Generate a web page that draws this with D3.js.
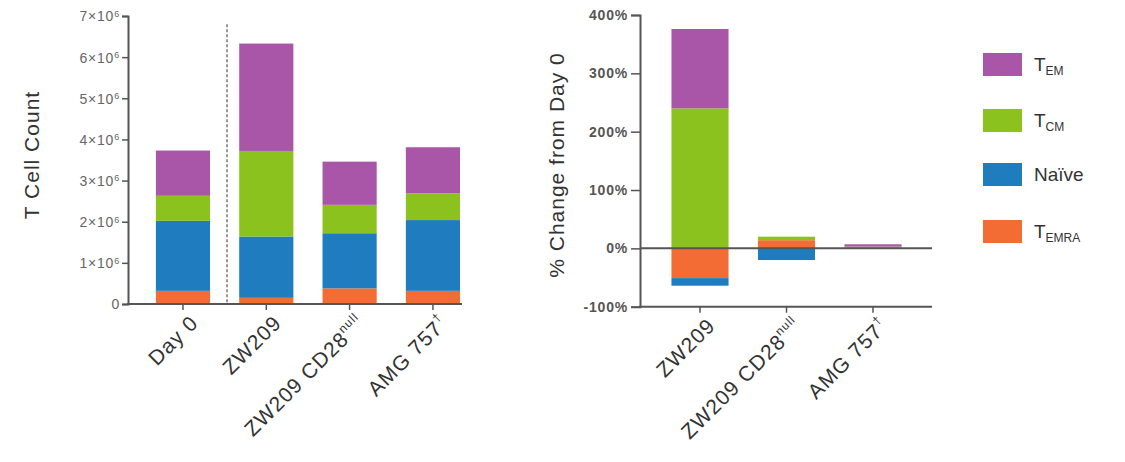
<!DOCTYPE html>
<html><head><meta charset="utf-8">
<script src="https://cdn.jsdelivr.net/npm/d3@7"></script>
<style>body{margin:0;background:#fff}svg{display:block}</style>
</head><body>
<svg id="c" width="1125" height="462"></svg>
<script>
// ---- data ----
const leftCats = ["Day 0", "ZW209", "ZW209 CD28null", "AMG 757"];
const rightCats = ["ZW209", "ZW209 CD28null", "AMG 757"];
const seriesKeys = ["TEMRA", "Naive", "TCM", "TEM"];
// left: T cell counts (×10^6)
const temraCount = [0.32, 0.15, 0.38, 0.32];
const naiveCount = [1.70, 1.49, 1.34, 1.72];
const tcmCount   = [0.61, 2.08, 0.69, 0.65];
const temCount   = [1.10, 2.61, 1.05, 1.12];
// right: % change from Day 0
const temraPct = [-51, 14, 1];
const naivePct = [-13, -20, 0];
const tcmPct   = [240, 6, 2];
const temPct   = [136, 0, 4];
const leftTicks = [0, 1, 2, 3, 4, 5, 6, 7];
const rightTicks = [-100, 0, 100, 200, 300, 400];

const colors = {TEM: "#a956a8", TCM: "#8cc21e", Naive: "#1f7dbf", TEMRA: "#f26c33"};
const legendItems = [
  {key: "TEM", main: "T", sub: "EM"},
  {key: "TCM", main: "T", sub: "CM"},
  {key: "Naive", main: "Naïve", sub: ""},
  {key: "TEMRA", main: "T", sub: "EMRA"}
];

const svg = d3.select("#c");
const axisCol = "#555";
const font = "'Liberation Sans', Arial, sans-serif";

// ---------- LEFT CHART ----------
const leftRows = leftCats.map((c, i) => ({cat: c, TEMRA: temraCount[i], Naive: naiveCount[i], TCM: tcmCount[i], TEM: temCount[i]}));
const xL = d3.scaleBand().domain(leftCats).range([141.3, 474.6]).paddingInner(0.35).paddingOuter(0.175);
const yL = d3.scaleLinear().domain([0, 7]).range([304, 16]);
const stackL = d3.stack().keys(seriesKeys)(leftRows);

const gL = svg.append("g");
gL.selectAll("g.s").data(stackL).join("g").attr("fill", d => colors[d.key])
  .selectAll("rect").data(d => d).join("rect")
  .attr("x", d => xL(d.data.cat)).attr("width", xL.bandwidth())
  .attr("y", d => yL(d[1])).attr("height", d => yL(d[0]) - yL(d[1]));

// dotted separator
gL.append("line").attr("x1", 227).attr("x2", 227).attr("y1", yL(6.8)).attr("y2", yL(0))
  .attr("stroke", "#777").attr("stroke-width", 1.5).attr("stroke-dasharray", "3,2");

// y axis
const yAxL = gL.append("g").attr("transform", "translate(128,0)")
  .call(d3.axisLeft(yL).tickValues(leftTicks).tickSize(6).tickFormat(() => ""));
yAxL.select(".domain").attr("stroke", axisCol).attr("stroke-width", 2);
yAxL.selectAll(".tick line").attr("stroke", axisCol).attr("stroke-width", 1.5);
yAxL.selectAll(".tick").each(function(d) {
  const t = d3.select(this).append("text").attr("x", -8).attr("dy", "0.35em")
    .attr("text-anchor", "end").attr("fill", "#666").attr("font-family", font).attr("font-size", 14)
    .attr("letter-spacing", 0.8);
  if (d === 0) { t.text("0"); }
  else {
    t.append("tspan").text(d + "×10");
    t.append("tspan").attr("font-size", 9).attr("dy", "-0.5em").text("6");
  }
});
// x axis baseline
gL.append("line").attr("x1", 127).attr("x2", 462).attr("y1", 304).attr("y2", 304)
  .attr("stroke", axisCol).attr("stroke-width", 2);
leftCats.forEach(c => {
  const cx = xL(c) + xL.bandwidth() / 2;
  gL.append("line").attr("x1", cx).attr("x2", cx).attr("y1", 304).attr("y2", 310)
    .attr("stroke", axisCol).attr("stroke-width", 1.5);
});

function catLabel(g, c, cx, y0) {
  const t = g.append("text").attr("transform", `translate(${cx + 6},${y0}) rotate(-45)`)
    .attr("text-anchor", "end").attr("fill", "#333").attr("font-family", font).attr("font-size", 21)
    .attr("letter-spacing", 1).attr("dy", "0.7em");
  if (c === "ZW209 CD28null") {
    t.append("tspan").text("ZW209 CD28");
    t.append("tspan").attr("font-size", 12).attr("dy", "-0.8em").text("null");
  } else if (c === "AMG 757") {
    t.append("tspan").text("AMG 757");
    t.append("tspan").attr("font-size", 12).attr("dy", "-0.8em").text("†");
  } else {
    t.text(c);
  }
}
leftCats.forEach(c => catLabel(gL, c, xL(c) + xL.bandwidth() / 2, 314));

gL.append("text").attr("transform", "translate(39,155) rotate(-90)").attr("text-anchor", "middle")
  .attr("fill", "#333").attr("font-family", font).attr("font-size", 21).attr("letter-spacing", 1)
  .text("T Cell Count");

// ---------- RIGHT CHART ----------
const rightRows = rightCats.map((c, i) => ({cat: c, TEMRA: temraPct[i], Naive: naivePct[i], TCM: tcmPct[i], TEM: temPct[i]}));
const xR = d3.scaleBand().domain(rightCats).range([656.75, 916.25]).paddingInner(0.34).paddingOuter(0.17);
const yR = d3.scaleLinear().domain([-100, 400]).range([306.7, 15]);
const stackR = d3.stack().keys(seriesKeys).offset(d3.stackOffsetDiverging)(rightRows);

const gR = svg.append("g");
gR.selectAll("g.s").data(stackR).join("g").attr("fill", d => colors[d.key])
  .selectAll("rect").data(d => d).join("rect")
  .attr("x", d => xR(d.data.cat)).attr("width", xR.bandwidth())
  .attr("y", d => yR(Math.max(d[0], d[1]))).attr("height", d => Math.abs(yR(d[0]) - yR(d[1])));

const yAxR = gR.append("g").attr("transform", "translate(640,0)")
  .call(d3.axisLeft(yR).tickValues(rightTicks).tickSize(9).tickFormat(d => d + "%"));
yAxR.select(".domain").attr("stroke", axisCol).attr("stroke-width", 2);
yAxR.selectAll(".tick line").attr("stroke", axisCol).attr("stroke-width", 1.5);
yAxR.selectAll(".tick text").attr("fill", "#555").attr("font-family", font).attr("font-size", 14)
  .attr("font-weight", "bold").attr("letter-spacing", 0.8).attr("x", -12);
// zero line
gR.append("line").attr("x1", 640).attr("x2", 932).attr("y1", yR(0)).attr("y2", yR(0))
  .attr("stroke", axisCol).attr("stroke-width", 2);
// bottom axis
gR.append("line").attr("x1", 639).attr("x2", 932).attr("y1", yR(-100)).attr("y2", yR(-100))
  .attr("stroke", axisCol).attr("stroke-width", 2);
rightCats.forEach(c => {
  const cx = xR(c) + xR.bandwidth() / 2;
  gR.append("line").attr("x1", cx).attr("x2", cx).attr("y1", yR(-100)).attr("y2", yR(-100) + 6)
    .attr("stroke", axisCol).attr("stroke-width", 1.5);
  catLabel(gR, c, cx, yR(-100) + 10);
});

gR.append("text").attr("transform", "translate(564,165) rotate(-90)").attr("text-anchor", "middle")
  .attr("fill", "#333").attr("font-family", font).attr("font-size", 21).attr("letter-spacing", 1)
  .text("% Change from Day 0");

// ---------- LEGEND ----------
const legY = [53, 109, 163, 220];
const gLeg = svg.append("g");
legendItems.forEach((it, i) => {
  gLeg.append("rect").attr("x", 983).attr("y", legY[i]).attr("width", 39).attr("height", 23)
    .attr("fill", colors[it.key]);
  const t = gLeg.append("text").attr("x", 1034).attr("y", legY[i] + 18)
    .attr("fill", "#333").attr("font-family", font).attr("font-size", 19);
  t.append("tspan").text(it.main);
  if (it.sub) t.append("tspan").attr("font-size", 12).attr("dy", "0.35em").text(it.sub);
});
</script>
</body></html>
